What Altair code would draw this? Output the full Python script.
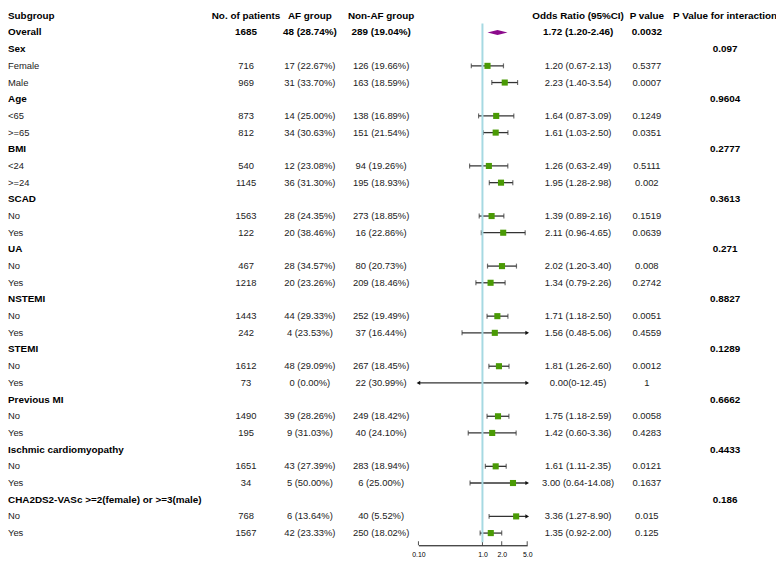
import altair as alt
import pandas as pd

# ---------------- data ----------------
headers = ["Subgroup", "No. of patients", "AF group", "Non-AF group",
           "Odds Ratio (95%CI)", "P value", "P Value for interaction"]

labels = ["Overall", "Sex", "Female", "Male", "Age", "<65", ">=65", "BMI", "<24", ">=24",
          "SCAD", "No", "Yes", "UA", "No", "Yes", "NSTEMI", "No", "Yes", "STEMI", "No", "Yes",
          "Previous MI", "No", "Yes", "Ischmic cardiomyopathy", "No", "Yes",
          "CHA2DS2-VASc >=2(female) or >=3(male)", "No", "Yes"]
kind = ["overall", "group", "sub", "sub", "group", "sub", "sub", "group", "sub", "sub",
        "group", "sub", "sub", "group", "sub", "sub", "group", "sub", "sub", "group", "sub", "sub",
        "group", "sub", "sub", "group", "sub", "sub", "group", "sub", "sub"]
n_patients = ["1685", "", "716", "969", "", "873", "812", "", "540", "1145", "", "1563", "122",
              "", "467", "1218", "", "1443", "242", "", "1612", "73", "", "1490", "195", "",
              "1651", "34", "", "768", "1567"]
af_group = ["48 (28.74%)", "", "17 (22.67%)", "31 (33.70%)", "", "14 (25.00%)", "34 (30.63%)",
            "", "12 (23.08%)", "36 (31.30%)", "", "28 (24.35%)", "20 (38.46%)", "",
            "28 (34.57%)", "20 (23.26%)", "", "44 (29.33%)", "4 (23.53%)", "", "48 (29.09%)",
            "0 (0.00%)", "", "39 (28.26%)", "9 (31.03%)", "", "43 (27.39%)", "5 (50.00%)", "",
            "6 (13.64%)", "42 (23.33%)"]
non_af_group = ["289 (19.04%)", "", "126 (19.66%)", "163 (18.59%)", "", "138 (16.89%)",
                "151 (21.54%)", "", "94 (19.26%)", "195 (18.93%)", "", "273 (18.85%)",
                "16 (22.86%)", "", "80 (20.73%)", "209 (18.46%)", "", "252 (19.49%)",
                "37 (16.44%)", "", "267 (18.45%)", "22 (30.99%)", "", "249 (18.42%)",
                "40 (24.10%)", "", "283 (18.94%)", "6 (25.00%)", "", "40 (5.52%)",
                "250 (18.02%)"]
or_text = ["1.72 (1.20-2.46)", "", "1.20 (0.67-2.13)", "2.23 (1.40-3.54)", "", "1.64 (0.87-3.09)",
           "1.61 (1.03-2.50)", "", "1.26 (0.63-2.49)", "1.95 (1.28-2.98)", "", "1.39 (0.89-2.16)",
           "2.11 (0.96-4.65)", "", "2.02 (1.20-3.40)", "1.34 (0.79-2.26)", "", "1.71 (1.18-2.50)",
           "1.56 (0.48-5.06)", "", "1.81 (1.26-2.60)", "0.00(0-12.45)", "", "1.75 (1.18-2.59)",
           "1.42 (0.60-3.36)", "", "1.61 (1.11-2.35)", "3.00 (0.64-14.08)", "",
           "3.36 (1.27-8.90)", "1.35 (0.92-2.00)"]
or_est = [1.72, None, 1.20, 2.23, None, 1.64, 1.61, None, 1.26, 1.95, None, 1.39, 2.11, None,
          2.02, 1.34, None, 1.71, 1.56, None, 1.81, 0.00, None, 1.75, 1.42, None, 1.61, 3.00,
          None, 3.36, 1.35]
or_lo = [1.20, None, 0.67, 1.40, None, 0.87, 1.03, None, 0.63, 1.28, None, 0.89, 0.96, None,
         1.20, 0.79, None, 1.18, 0.48, None, 1.26, 0.0, None, 1.18, 0.60, None, 1.11, 0.64,
         None, 1.27, 0.92]
or_hi = [2.46, None, 2.13, 3.54, None, 3.09, 2.50, None, 2.49, 2.98, None, 2.16, 4.65, None,
         3.40, 2.26, None, 2.50, 5.06, None, 2.60, 12.45, None, 2.59, 3.36, None, 2.35, 14.08,
         None, 8.90, 2.00]
p_value = ["0.0032", "", "0.5377", "0.0007", "", "0.1249", "0.0351", "", "0.5111", "0.002", "",
           "0.1519", "0.0639", "", "0.008", "0.2742", "", "0.0051", "0.4559", "", "0.0012", "1",
           "", "0.0058", "0.4283", "", "0.0121", "0.1637", "", "0.015", "0.125"]
p_interaction = ["", "0.097", "", "", "0.9604", "", "", "0.2777", "", "", "0.3613", "", "",
                 "0.271", "", "", "0.8827", "", "", "0.1289", "", "", "0.6662", "", "",
                 "0.4433", "", "", "0.186", "", ""]
axis_ticks = [0.1, 1, 2, 5]
x_domain = [0.1, 5]

# ---------------- tables ----------------
rows = list(range(1, len(labels) + 1))
df = pd.DataFrame({
    "row": rows, "kind": kind, "label": labels, "n": n_patients, "af": af_group,
    "naf": non_af_group, "ortxt": or_text, "p": p_value, "pint": p_interaction,
    "est": or_est, "lo": or_lo, "hi": or_hi,
})
hdr = pd.DataFrame({"row": [0] * len(headers), "col": ["label", "n", "af", "naf", "ortxt", "p", "pint"],
                    "text": headers})

FONT = "Liberation Sans"
REG = "#222222"
W, H = 776, 540
ROW_H = 16.86
yscale = alt.Scale(domain=[0, 31], range=[5, 5 + ROW_H * 31], nice=False, zero=False)
xscale = alt.Scale(type="log", domain=x_domain, range=[414.7, 524.6], nice=False)
xaxis = alt.Axis(values=axis_ticks, labelExpr="datum.value < 0.5 ? '0.10' : format(datum.value, '.1f')",
                 domain=True, domainColor="black", domainWidth=1, ticks=False, grid=False,
                 labelFontSize=7, labelPadding=5, labelFont=FONT, labelColor="black",
                 labelFlush=False, labelOverlap=False, title=None)
Y = alt.Y("row:Q", scale=yscale, axis=None)

col_pos = {"label": (0, "left"), "n": (240.5, "center"), "af": (305, "center"),
           "naf": (377, "center"), "ortxt": (576, "center"), "p": (645.5, "center"),
           "pint": (724.5, "center")}

layers = []

# header row (bold)
for c, (px, al) in col_pos.items():
    layers.append(
        alt.Chart(hdr[hdr["col"] == c]).mark_text(align=al, baseline="middle", font=FONT,
                                                  fontSize=10, fontWeight="bold", color="black")
        .encode(x=alt.value(px), y=Y, text="text:N"))

# body text
for c, (px, al) in col_pos.items():
    if c in ("label", "pint"):
        bold_df = df[df["kind"].isin(["overall", "group"])]
    else:
        bold_df = df[df["kind"] == "overall"]
    reg_df = df[~df.index.isin(bold_df.index)]
    bold_df = bold_df[bold_df[c] != ""]
    reg_df = reg_df[reg_df[c] != ""]
    if len(bold_df):
        layers.append(
            alt.Chart(bold_df).mark_text(align=al, baseline="middle", font=FONT, fontSize=10,
                                         fontWeight="bold", color="black")
            .encode(x=alt.value(px), y=Y, text=f"{c}:N"))
    if len(reg_df):
        layers.append(
            alt.Chart(reg_df).mark_text(align=al, baseline="middle", font=FONT, fontSize=9.5,
                                        color=REG)
            .encode(x=alt.value(px), y=Y, text=f"{c}:N"))

# forest data
fr = df[(df["kind"] == "sub")].copy()
fr["lo_c"] = fr["lo"].clip(lower=x_domain[0], upper=x_domain[1])
fr["hi_c"] = fr["hi"].clip(lower=x_domain[0], upper=x_domain[1])

caps = pd.concat([
    fr[fr["lo"] >= x_domain[0]][["row", "lo"]].rename(columns={"lo": "v"}),
    fr[fr["hi"] <= x_domain[1]][["row", "hi"]].rename(columns={"hi": "v"}),
])
right_arrows = fr[fr["hi"] > x_domain[1]][["row", "hi_c"]]
left_arrows = fr[fr["lo"] < x_domain[0]][["row", "lo_c"]]
squares = fr[fr["est"] > 0]

ref = pd.DataFrame({"v": [1.0]})
ticks_df = pd.DataFrame({"t": axis_ticks})

ov = df[df["kind"] == "overall"].iloc[0]
half = 2.6 / ROW_H
diamond = pd.DataFrame({
    "dx": [ov["lo"], ov["est"], ov["hi"]],
    "dy": [ov["row"], ov["row"] - half, ov["row"]],
    "dy2": [ov["row"], ov["row"] + half, ov["row"]],
})

# axis ticks (pointing up from axis line)
layers.append(alt.Chart(ticks_df).mark_tick(orient="vertical", size=4, thickness=1, color="black")
              .encode(x=alt.X("t:Q", scale=xscale, axis=xaxis), y=alt.value(538)))

# CI lines
layers.append(alt.Chart(fr).mark_rule(color="#333333", strokeWidth=1.3)
              .encode(x=alt.X("lo_c:Q", scale=xscale, axis=xaxis), x2="hi_c:Q", y=Y))
layers.append(alt.Chart(caps).mark_tick(orient="vertical", size=5, thickness=1.2, color="#333333")
              .encode(x=alt.X("v:Q", scale=xscale, axis=xaxis), y=Y))
layers.append(alt.Chart(right_arrows).mark_point(shape="triangle-right", filled=True, size=18,
                                                 color="#111111", opacity=1)
              .encode(x=alt.X("hi_c:Q", scale=xscale, axis=xaxis), y=Y))
layers.append(alt.Chart(left_arrows).mark_point(shape="triangle-left", filled=True, size=18,
                                                color="#111111", opacity=1)
              .encode(x=alt.X("lo_c:Q", scale=xscale, axis=xaxis), y=Y))

# reference line at OR = 1
layers.append(alt.Chart(ref).mark_rule(color="#a6d9e2", strokeWidth=2)
              .encode(x=alt.X("v:Q", scale=xscale, axis=xaxis), y=alt.value(12.8), y2=alt.value(537)))

# squares
layers.append(alt.Chart(squares).mark_square(size=38, color="#4a9a05", filled=True, opacity=1)
              .encode(x=alt.X("est:Q", scale=xscale, axis=xaxis), y=Y))

# overall diamond
layers.append(alt.Chart(diamond).mark_area(orient="vertical", color="#8b0a8b", opacity=1)
              .encode(x=alt.X("dx:Q", scale=xscale, axis=xaxis),
                      y=alt.Y("dy:Q", scale=yscale, axis=None), y2="dy2:Q"))

chart = alt.layer(*layers).properties(
    width=W, height=H,
    padding={"left": 0, "top": 0, "right": 0, "bottom": 14},
    autosize=alt.AutoSizeParams(type="none"),
    background="white",
).configure_view(stroke=None)

chart.save("out.html", embed_options={"renderer": "svg", "actions": False})
